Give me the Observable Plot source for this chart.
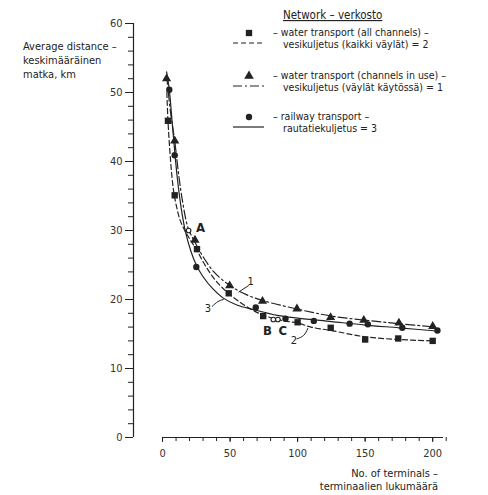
<!DOCTYPE html>
<html><head><meta charset="utf-8">
<script src="https://cdn.jsdelivr.net/npm/d3@7"></script>
<script src="https://cdn.jsdelivr.net/npm/@observablehq/plot@0.6"></script>
<style>
body{margin:0;background:#fff;}
#wrap{position:relative;width:488px;height:495px;font-family:"DejaVu Sans Condensed","DejaVu Sans",sans-serif;}
#wrap svg{position:absolute;left:0;top:0;}
</style></head><body><div id="wrap"></div>
<script>
// ---- data ----
const squareX = [4, 9, 25.5, 49, 74.5, 100, 124.5, 150, 174.5, 200];
const squareY = [45.9, 35.1, 27.3, 20.9, 17.6, 16.7, 15.9, 14.2, 14.35, 14.0];
const triX = [3, 9, 24, 49.7, 74, 99.5, 124.4, 149, 175, 200];
const triY = [52, 43, 28.6, 22, 19.75, 18.65, 17.4, 17.0, 16.6, 16.1];
const circX = [5, 9, 25, 69, 91, 112, 138.5, 152, 177.5, 203.5];
const circY = [50.4, 40.9, 24.7, 18.85, 17.2, 16.9, 16.5, 16.4, 15.9, 15.5];
const openLabels = ["A", "B", "C"];
const openX = [19.3, 82, 85.4];
const openY = [30.0, 17.1, 17.1];
const openLabelX = [28.1, 77.6, 89.1];
const openLabelY = [30.4, 15.5, 15.5];
// fitted curves
const curve1 = [[3,52.5],[6,47],[9,43],[12,38],[15,34],[19,30.3],[24,28.3],[30,26.2],[38,24],[50,22],[62,20.7],[75,19.8],[100,18.6],[125,17.6],[150,17.0],[175,16.5],[202,16.0]];
const curve2 = [[3.2,50],[4,46],[6,40],[8,36],[10,33.8],[13,31.5],[17,29.8],[21,28.5],[25.5,27.1],[32,24.8],[40,22.6],[50,20.7],[62,19],[75,17.7],[90,16.9],[100,16.6],[110,16.0],[125,15.5],[150,14.6],[175,14.2],[200,14.0]];
const curve3 = [[3,53],[5,50.4],[7,46],[9,41.5],[11,37.5],[14,33],[17,29.8],[21,27],[25,25],[30,23.3],[37,21.6],[45,20.2],[55,19.2],[68,18.5],[85,17.7],[100,17.3],[125,16.8],[150,16.3],[175,15.9],[205,15.4]];
const curveLabels = ["1", "2", "3"];
const curveLabelX = [65.2, 97.3, 33.6];
const curveLabelY = [22.65, 14.06, 18.65];
const leader1 = [[63.6,22.0],[56.5,21.1]];
const leader2 = [[99.5,14.3],[104.5,14.8],[107.5,15.8]];
const leader3 = [[36.8,19.0],[41,19.7],[45,20.0]];
const xTicks = [0, 50, 100, 150, 200];
const yTicks = [0, 10, 20, 30, 40, 50, 60];

const ink = "#222";
const pts = (xs, ys) => xs.map((x, i) => ({x, y: ys[i]}));
const xMin = -21.5, xMax = 208;

const chart = Plot.plot({
  width: 488, height: 495,
  marginLeft: 133, marginRight: 45, marginTop: 23, marginBottom: 58,
  style: {fontFamily: '"DejaVu Sans Condensed","DejaVu Sans",sans-serif', fontSize: "11px", color: ink, background: "transparent"},
  x: {domain: [xMin, xMax], label: null},
  y: {domain: [0, 60], label: null},
  marks: [
    Plot.axisY({ticks: d3.range(0, 61, 2), tickSize: 5, text: null, stroke: ink, label: null}),
    Plot.axisY({ticks: yTicks, tickSize: 8, tickPadding: 3, stroke: ink, fill: "#333", label: null}),
    Plot.ruleX([xMin], {y1: 0, y2: 60, stroke: ink, strokeWidth: 1.2}),
    Plot.axisX({ticks: d3.range(0, 211, 10), tickSize: 4, text: null, stroke: ink, label: null}),
    Plot.axisX({ticks: xTicks, tickSize: 5, tickPadding: 7, stroke: ink, fill: "#333", label: null}),
    Plot.ruleY([0], {x1: 0, x2: xMax, stroke: ink, strokeWidth: 1.2}),
    Plot.line(curve1, {x: d => d[0], y: d => d[1], curve: "catmull-rom", stroke: ink, strokeWidth: 1.2, strokeDasharray: "9,3,2,3"}),
    Plot.line(curve2, {x: d => d[0], y: d => d[1], curve: "catmull-rom", stroke: ink, strokeWidth: 1.2, strokeDasharray: "5,3"}),
    Plot.line(curve3, {x: d => d[0], y: d => d[1], curve: "catmull-rom", stroke: ink, strokeWidth: 1.2}),
    Plot.line(leader1, {x: d => d[0], y: d => d[1], stroke: ink, strokeWidth: 1}),
    Plot.line(leader2, {x: d => d[0], y: d => d[1], curve: "natural", stroke: ink, strokeWidth: 1}),
    Plot.line(leader3, {x: d => d[0], y: d => d[1], curve: "natural", stroke: ink, strokeWidth: 1}),
    Plot.dot(pts(squareX, squareY), {x: "x", y: "y", symbol: "square", r: 3.6, fill: ink}),
    Plot.dot(pts(triX, triY), {x: "x", y: "y", symbol: "triangle", r: 3.4, fill: ink}),
    Plot.dot(pts(circX, circY), {x: "x", y: "y", symbol: "circle", r: 3.2, fill: ink}),
    Plot.dot(pts(openX, openY), {x: "x", y: "y", r: 2.3, stroke: ink, strokeWidth: 1.1, fill: "white"}),
    Plot.text(openLabels.map((t, i) => ({t, x: openLabelX[i], y: openLabelY[i]})), {x: "x", y: "y", text: "t", fontSize: 13, fontWeight: "bold", fill: ink}),
    Plot.text(curveLabels.map((t, i) => ({t, x: curveLabelX[i], y: curveLabelY[i]})), {x: "x", y: "y", text: "t", fontSize: 11, fill: ink})
  ]
});
const wrap = document.getElementById("wrap");
wrap.appendChild(chart);

// ---- legend & titles overlay ----
const ov = d3.select(wrap).append("svg").attr("width", 488).attr("height", 495)
  .style("font-family", '"DejaVu Sans Condensed","DejaVu Sans",sans-serif').style("font-size", "11px");
const txt = (x, y, s, opt = {}) => ov.append("text").attr("x", x).attr("y", y).attr("dy", "0.35em")
  .attr("fill", ink).attr("text-anchor", opt.anchor || "start").style("font-size", opt.size || "11px")
  .style("font-weight", opt.weight || "normal").style("text-decoration", opt.deco || "none").text(s);

// y-axis title
txt(23, 46, "Average distance –");
txt(23, 60, "keskimääräinen");
txt(23, 74, "matka, km");
// x-axis title
txt(438, 473, "No. of terminals –", {anchor: "end"});
txt(438, 486, "terminaalien lukumäärä", {anchor: "end"});

// legend
txt(283, 15, "Network – verkosto", {deco: "underline", size: "11.5px"});
const legend = [
  {sym: d3.symbolSquare, dash: "5,3", l1: "water transport (all channels) –", l2: "vesikuljetus (kaikki väylät) = 2", y: 33},
  {sym: d3.symbolTriangle, dash: "9,3,2,3", l1: "water transport (channels in use) –", l2: "vesikuljetus (väylät käytössä) = 1", y: 76},
  {sym: d3.symbolCircle, dash: null, l1: "railway transport –", l2: "rautatiekuljetus = 3", y: 117}
];
legend.forEach(e => {
  ov.append("path").attr("d", d3.symbol(e.sym, e.sym === d3.symbolCircle ? 32 : 40)())
    .attr("transform", `translate(249,${e.y})`).attr("fill", ink);
  ov.append("line").attr("x1", 233).attr("x2", 264).attr("y1", e.y + 10).attr("y2", e.y + 10)
    .attr("stroke", ink).attr("stroke-width", 1.2).attr("stroke-dasharray", e.dash);
  txt(273, e.y - 0.5, "– " + e.l1, {size: "10.5px"});
  txt(283, e.y + 11.5, e.l2, {size: "10.5px"});
});
</script></body></html>
